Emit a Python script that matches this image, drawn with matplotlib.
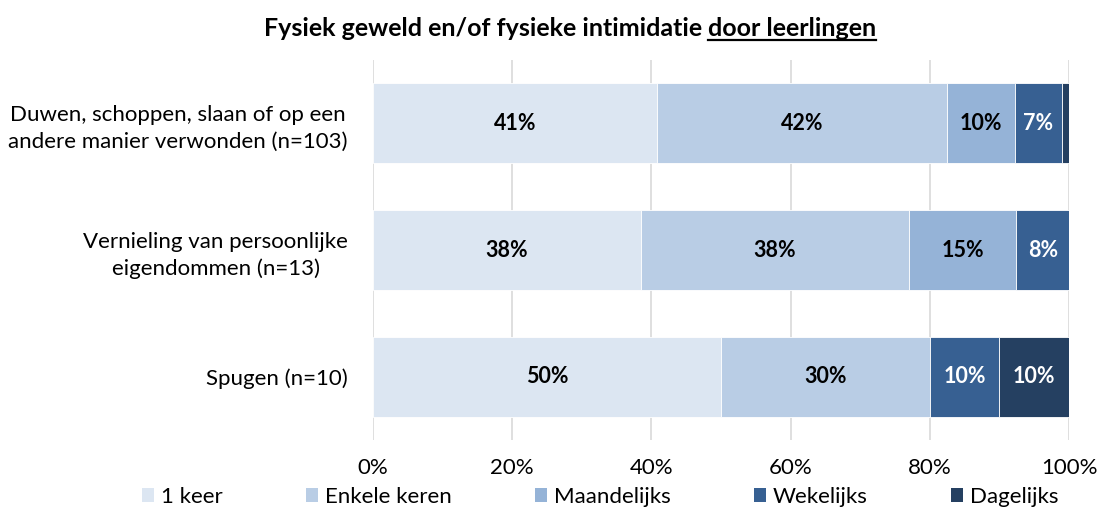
import matplotlib
matplotlib.use("Agg")
import matplotlib.pyplot as plt
from matplotlib.patches import Patch
from matplotlib.lines import Line2D

plt.rcParams['font.family'] = ['Lato', 'DejaVu Sans']

categories = ["Duwen, schoppen, slaan of op een\nandere manier verwonden (n=103)",
              "Vernieling van persoonlijke\neigendommen (n=13)",
              "Spugen (n=10)"]
series_names = ["1 keer", "Enkele keren", "Maandelijks", "Wekelijks", "Dagelijks"]
series_values = [
    [40.8, 38.5, 50.0],   # 1 keer
    [41.7, 38.5, 30.0],   # Enkele keren
    [9.7, 15.4, 0.0],     # Maandelijks
    [6.8, 7.7, 10.0],     # Wekelijks
    [1.0, 0.0, 10.0],     # Dagelijks
]
colors = ["#DCE6F2", "#B9CDE5", "#95B3D7", "#376092", "#254061"]
text_colors = ["black", "black", "black", "white", "white"]
xticks = [0, 20, 40, 60, 80, 100]
title_part1 = "Fysiek geweld en/of fysieke intimidatie"
title_part2 = "door leerlingen"

W, H = 1101, 511
fig = plt.figure(figsize=(W / 100, H / 100), dpi=100)
ax = fig.add_axes([373 / W, 1 - 440 / H, (1069 - 373) / W, 380 / H])

ypos = list(range(len(categories)))
left = [0.0] * len(categories)
for name, vals, col, tc in zip(series_names, series_values, colors, text_colors):
    ax.barh(ypos, vals, left=left, height=0.63, color=col, edgecolor="white",
            linewidth=0.6, label=name, zorder=3)
    for i, v in enumerate(vals):
        if v >= 5:
            ax.text(left[i] + v / 2, ypos[i], f"{round(v):.0f}%", ha="center", va="center",
                    color=tc, fontsize=15.5, fontweight="bold", zorder=4)
    left = [l + v for l, v in zip(left, vals)]

ax.set_xlim(0, 100)
ax.set_ylim(len(categories) - 0.5, -0.5)
ax.set_yticks(ypos)
ax.set_yticklabels(categories, fontsize=16, multialignment="center", linespacing=1.4)
ax.set_xticks(xticks)
ax.set_xticklabels([f"{x}%" for x in xticks], fontsize=16)
ax.tick_params(axis="both", length=0)
ax.tick_params(axis="x", pad=13)
ax.tick_params(axis="y", pad=18)
for s in ax.spines.values():
    s.set_visible(False)
ax.grid(axis="x", color="#D9D9D9", linewidth=1.2, zorder=0)
ax.set_axisbelow(True)

handles = [Patch(facecolor=c, edgecolor="none") for c in colors]
fig.legend(handles, series_names, loc="center", bbox_to_anchor=(600 / W, 1 - 497 / H),
           ncol=5, frameon=False, fontsize=16, handlelength=0.55, handleheight=0.55,
           handletextpad=0.3, columnspacing=3.75, borderaxespad=0)

# Title with underlined second part
fig.canvas.draw()
r = fig.canvas.get_renderer()
tfs = 18
cx = 570
base_y = H - 36
t1 = fig.text(0, 0, title_part1, fontsize=tfs, fontweight="bold", transform=None,
              ha="left", va="baseline")
t2 = fig.text(0, 0, title_part2, fontsize=tfs, fontweight="bold", transform=None,
              ha="left", va="baseline")
w1 = t1.get_window_extent(r).width
w2 = t2.get_window_extent(r).width
gap = tfs * 0.3
total = w1 + gap + w2
x0 = cx - total / 2
t1.set_position((x0, base_y))
t2.set_position((x0 + w1 + gap, base_y))
fig.add_artist(Line2D([x0 + w1 + gap, x0 + total], [base_y - 4, base_y - 4],
                      transform=None, color="black", linewidth=1.6))

fig.savefig("out.png", dpi=100)
